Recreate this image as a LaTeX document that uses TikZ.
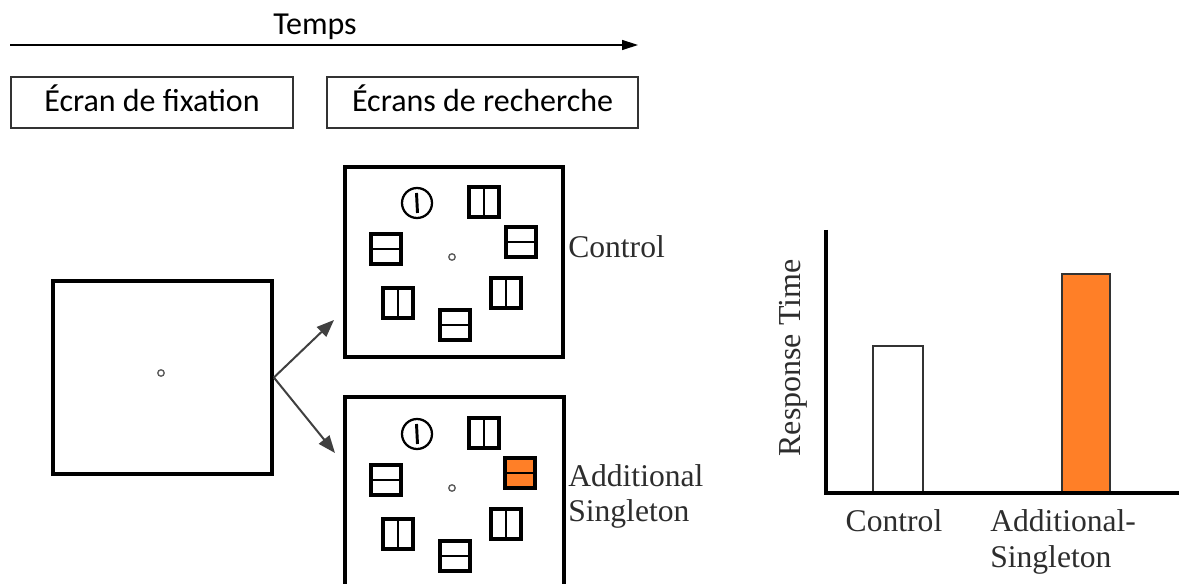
\documentclass[tikz,border=0pt]{standalone}
\usepackage{fontspec}
\setmainfont{Liberation Serif}
\newfontfamily\calib{Carlito}
\usetikzlibrary{arrows.meta}
\definecolor{sorange}{RGB}{255,127,39}
\definecolor{txtgray}{RGB}{45,45,45}
\begin{document}
\begin{tikzpicture}[x=0.75pt,y=-0.75pt,
  screen/.style={draw, line width=2.8pt, inner sep=0pt},
  labelbox/.style={draw=black!80, line width=0.8pt, inner sep=0pt, minimum height=38.25pt, text height=17pt, text depth=3.6pt, font=\calib\fontsize{24}{28}\selectfont},
  itemline/.style={line width=2.8pt},
  bar/.style={line width=2.2pt},
  fixdot/.style={draw=black!65, line width=1pt},
  serlab/.style={text=txtgray, font=\fontsize{23.7}{26.3}\selectfont, inner sep=0pt},
  branch/.style={draw=black!75, line width=1.5pt, -{Triangle[length=13pt,width=10pt]}},
  pics/sqh/.style={code={\draw[itemline] (-15,-15) rectangle (15,15); \draw[bar] (-13,0) -- (13,0);}},
  pics/sqv/.style={code={\draw[itemline] (-15,-15) rectangle (15,15); \draw[bar] (0,-13) -- (0,13);}},
  pics/sqo/.style={code={\draw[itemline, fill=sorange] (-15,-15) rectangle (15,15); \draw[bar] (-13,0) -- (13,0);}},
  pics/circv/.style={code={\draw[line width=1.7pt] (0,0) circle [radius=11.25pt]; \draw[bar] (-0.5,-10) -- (0.5,10);}},
  pics/fdot/.style={code={\draw[fixdot] (0,0) circle [radius=2.4pt];}}
]
\clip (0,0) rectangle (1179,584);
\fill[white] (0,0) rectangle (1179,584);

% time axis
\node[font=\calib\fontsize{24}{28}\selectfont, inner sep=0pt, anchor=base] (temps) at (315,35) {Temps};
\coordinate (tstart) at (10,45);
\coordinate (tend) at (638,45);
\draw[line width=1pt, -{Triangle[length=12pt,width=7.5pt]}] (tstart) -- (tend);

\node[labelbox, minimum width=211.5pt] (lab1) at (152,102.5) {\'Ecran de fixation};
\node[labelbox, minimum width=233.25pt] (lab2) at (482.5,102.5) {\'Ecrans de recherche};

% screens
\node[screen, minimum width=164.25pt, minimum height=144.75pt] (fix) at (162.5,377.5) {};
\node[screen, minimum width=163.5pt, minimum height=142.5pt] (s1) at (454,262) {};
\node[screen, minimum width=164.25pt, minimum height=142.5pt] (s2) at (454.5,492) {};
\pic at (161,373) {fdot};

\coordinate (tip1) at (334,320);
\coordinate (tip2) at (335,453);
\draw[branch] (fix.east) -- (tip1);
\draw[branch] (fix.east) -- (tip2);

% control display
\pic at (417,203) {circv};
\pic at (484,202) {sqv};
\pic at (386,249) {sqh};
\pic at (521,242) {sqh};
\pic at (452,257) {fdot};
\pic at (398,303) {sqv};
\pic at (506,293) {sqv};
\pic at (455,325) {sqh};

% additional singleton display
\pic at (417,434) {circv};
\pic at (484,433) {sqv};
\pic at (386,480) {sqh};
\pic at (520,473) {sqo};
\pic at (452,488) {fdot};
\pic at (398,534) {sqv};
\pic at (506,524) {sqv};
\pic at (455,556) {sqh};

\node[serlab, anchor=base west] (lc) at (568,258) {Control};
\node[serlab, anchor=base west, align=left] (las) at (568,522) {Additional\\Singleton};

% chart
\coordinate (ytop) at (826,230);
\coordinate (orig) at (826,493);
\coordinate (xend) at (1180,493);
\draw[line width=2.4pt] (ytop) -- (orig) -- (xend);
\draw[draw=black!80, line width=1.5pt, fill=white] (873,493) rectangle (923,346);
\draw[draw=black!80, line width=1.5pt, fill=sorange] (1062,493) rectangle (1110,274);
\draw[line width=2.4pt] (orig) -- (xend);

\node[serlab, rotate=90, font=\fontsize{24}{28}\selectfont] (ylab) at (793,358) {Response Time};
\node[serlab, anchor=base] (xc) at (894,532) {Control};
\node[serlab, anchor=base west, align=left] (xas) at (990,567) {Additional-\\Singleton};
\end{tikzpicture}
\end{document}
